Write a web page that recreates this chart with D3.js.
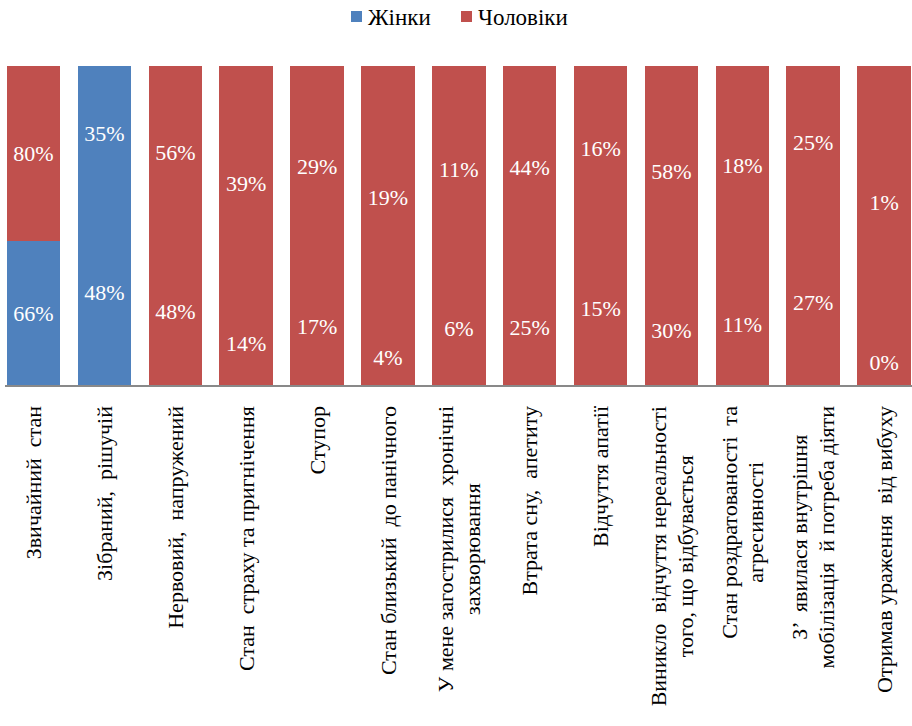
<!DOCTYPE html>
<html><head><meta charset="utf-8">
<script src="https://cdn.jsdelivr.net/npm/d3@7"></script>
<style>
body{margin:0;background:#fff;}
text{white-space:pre;}
</style>
</head><body><svg id="chart" width="912" height="726"></svg>
<script>
const categories = [
  ["Звичайний  стан"],
  ["Зібраний,  рішучій"],
  ["Нервовий,  напружений"],
  ["Стан  страху та пригнічення"],
  ["Ступор"],
  ["Стан близький  до панічного"],
  ["У мене загострилися  хронічні", "захворювання"],
  ["Втрата сну,  апетиту"],
  ["Відчуття апатії"],
  ["Виникло  відчуття нереальності", "того, що відбувається"],
  ["Стан роздратованості  та", "агресивності"],
  ["З’  явилася внутрішня", "мобілізація  й потреба діяти"],
  ["Отримав ураження  від вибуху"]
];
const women = [66, 48, 48, 14, 17, 4, 6, 25, 15, 30, 11, 27, 0.2];
const men   = [80, 35, 56, 39, 29, 19, 11, 44, 16, 58, 18, 25, 1.2];
const seriesNames = ["Жінки", "Чоловіки"];
const seriesColors = ["#4F81BD", "#C0504D"];
// colour index (into seriesColors) used by each point of each series
const womenFill = [0, 0, 1, 1, 1, 1, 1, 1, 1, 1, 1, 1, 1];
const menFill   = [1, 0, 1, 1, 1, 1, 1, 1, 1, 1, 1, 1, 1];

const FONT = "'Liberation Serif', 'Times New Roman', Times, serif";
const svg = d3.select("#chart").attr("font-family", FONT);
const W = 912, H = 726;
const plotTop = 66, plotBottom = 385;

const rows = categories.map((c, i) => ({ key: i, women: women[i], men: men[i] }));
const stack = d3.stack().keys(["women", "men"]).offset(d3.stackOffsetExpand);
const layers = stack(rows);
const fills = { women: womenFill, men: menFill };

const x = d3.scaleBand().domain(d3.range(categories.length))
  .range([-1.9, 919.5]).paddingInner(0.245).paddingOuter(0.1225);
const y = d3.scaleLinear().domain([0, 1]).range([plotBottom, plotTop]);

// bars
const gBars = svg.append("g").attr("shape-rendering", "crispEdges");
layers.forEach(layer => {
  gBars.selectAll(null).data(layer).enter().append("rect")
    .attr("x", (d, i) => x(i))
    .attr("width", x.bandwidth())
    .attr("y", d => y(d[1]))
    .attr("height", d => y(d[0]) - y(d[1]))
    .attr("fill", (d, i) => seriesColors[fills[layer.key][i]]);
});

// value labels
const gVal = svg.append("g");
layers.forEach(layer => {
  gVal.selectAll(null).data(layer).enter().append("text")
    .attr("x", (d, i) => x(i) + x.bandwidth() / 2)
    .attr("y", d => (y(d[0]) + y(d[1])) / 2)
    .attr("dy", "0.35em")
    .attr("text-anchor", "middle")
    .attr("fill", "#fff")
    .attr("font-family", FONT)
    .style("font-size", "22px")
    .text((d, i) => Math.round(rows[i][layer.key]) + "%");
});

// x axis line
const xAxis = d3.axisBottom(x).tickSize(0).tickFormat("");
const gAx = svg.append("g").attr("transform", `translate(0,${plotBottom + 1})`).call(xAxis);
gAx.attr("font-family", FONT);
gAx.select(".domain").attr("d", `M5,0H${W}`).attr("stroke", "#898989").attr("stroke-width", 2);

// category labels (rotated)
const labelTop = 406, lineH = 27;
const gLab = svg.append("g").style("font-size", "22px").attr("fill", "#000").attr("font-family", FONT);
categories.forEach((lines, i) => {
  const cx = x(i) + x.bandwidth() / 2;
  const g = gLab.append("g").attr("transform", `translate(${cx},0) rotate(-90)`);
  const texts = lines.map((s, j) => g.append("text")
    .attr("text-anchor", "middle")
    .attr("font-family", FONT)
    .attr("y", (j - (lines.length - 1) / 2) * lineH)
    .attr("dy", "0.35em")
    .text(s));
  const wMax = d3.max(texts, t => t.node().getComputedTextLength());
  texts.forEach(t => t.attr("x", -(labelTop + wMax / 2)));
});

// legend
const legend = svg.append("g").style("font-size", "23px").attr("font-family", FONT);
const legX = [351, 461];
seriesNames.forEach((n, k) => {
  legend.append("rect").attr("x", legX[k]).attr("y", 11).attr("width", 11).attr("height", 11)
    .attr("fill", seriesColors[k]);
  legend.append("text").attr("x", legX[k] + 17).attr("y", 25).attr("font-family", FONT).text(n);
});
</script>
</body></html>
